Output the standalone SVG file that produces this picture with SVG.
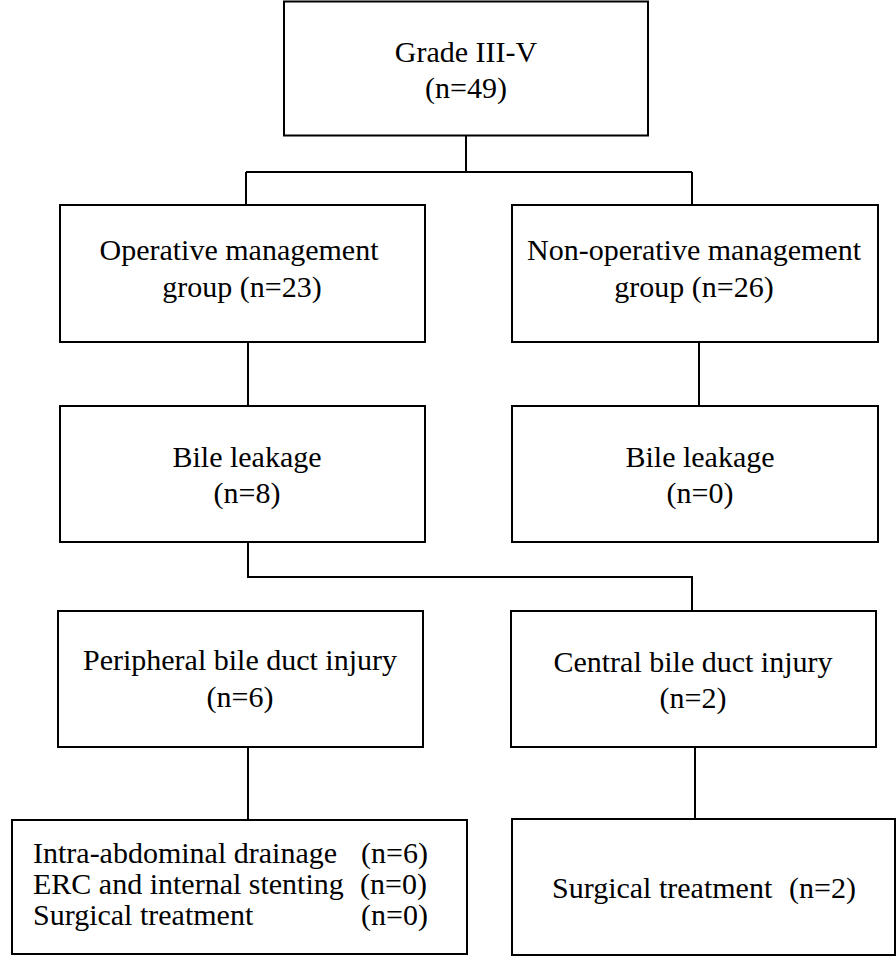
<svg xmlns="http://www.w3.org/2000/svg" width="896" height="957" viewBox="0 0 896 957">
<style>
.box{fill:#fff;stroke:#000;stroke-width:2}
.ln{fill:none;stroke:#000;stroke-width:2}
text{font-family:'Liberation Serif','Times New Roman',Tinos,'DejaVu Serif',serif;font-size:30px;fill:#000}
.c{text-anchor:middle}
</style>
<rect width="896" height="957" fill="#fff"/>
<g id="connectors">
<path class="ln" d="M466 136V172M246 172H692M246 172V205M692 172V205"/>
<path class="ln" d="M248 342V406M699 342V406"/>
<path class="ln" d="M248 542V577H692V611"/>
<path class="ln" d="M248 747V820M695 747V819"/>
</g>
<g id="n1"><rect class="box" x="284" y="1.5" width="364" height="134"/>
<text class="c" x="466" y="62">Grade III-V</text><text class="c" x="466" y="98">(n=49)</text></g>
<g id="n2"><rect class="box" x="60" y="205" width="365" height="137"/>
<text class="c" x="239" y="260">Operative management</text><text class="c" x="242" y="297">group (n=23)</text></g>
<g id="n3"><rect class="box" x="512" y="205" width="366" height="137"/>
<text class="c" x="694" y="260">Non-operative management</text><text class="c" x="694" y="297">group (n=26)</text></g>
<g id="n4"><rect class="box" x="60" y="406" width="365" height="136"/>
<text class="c" x="247" y="467">Bile leakage</text><text class="c" x="247" y="503">(n=8)</text></g>
<g id="n5"><rect class="box" x="512" y="406" width="366" height="136"/>
<text class="c" x="700" y="467">Bile leakage</text><text class="c" x="700" y="503">(n=0)</text></g>
<g id="n6"><rect class="box" x="58" y="611" width="365" height="136"/>
<text class="c" x="240" y="670">Peripheral bile duct injury</text><text class="c" x="240" y="707">(n=6)</text></g>
<g id="n7"><rect class="box" x="511" y="611" width="365" height="136"/>
<text class="c" x="693" y="672">Central bile duct injury</text><text class="c" x="693" y="708">(n=2)</text></g>
<g id="n8"><rect class="box" x="12" y="820" width="455" height="134"/>
<text x="33" y="863">Intra-abdominal drainage</text><text x="361" y="863">(n=6)</text>
<text x="33" y="894">ERC and internal stenting</text><text x="360" y="894">(n=0)</text>
<text x="33" y="925">Surgical treatment</text><text x="361" y="925">(n=0)</text></g>
<g id="n9"><rect class="box" x="512" y="819" width="383" height="136"/>
<text y="898"><tspan x="552">Surgical treatment</tspan><tspan x="789">(n=2)</tspan></text></g>
</svg>
